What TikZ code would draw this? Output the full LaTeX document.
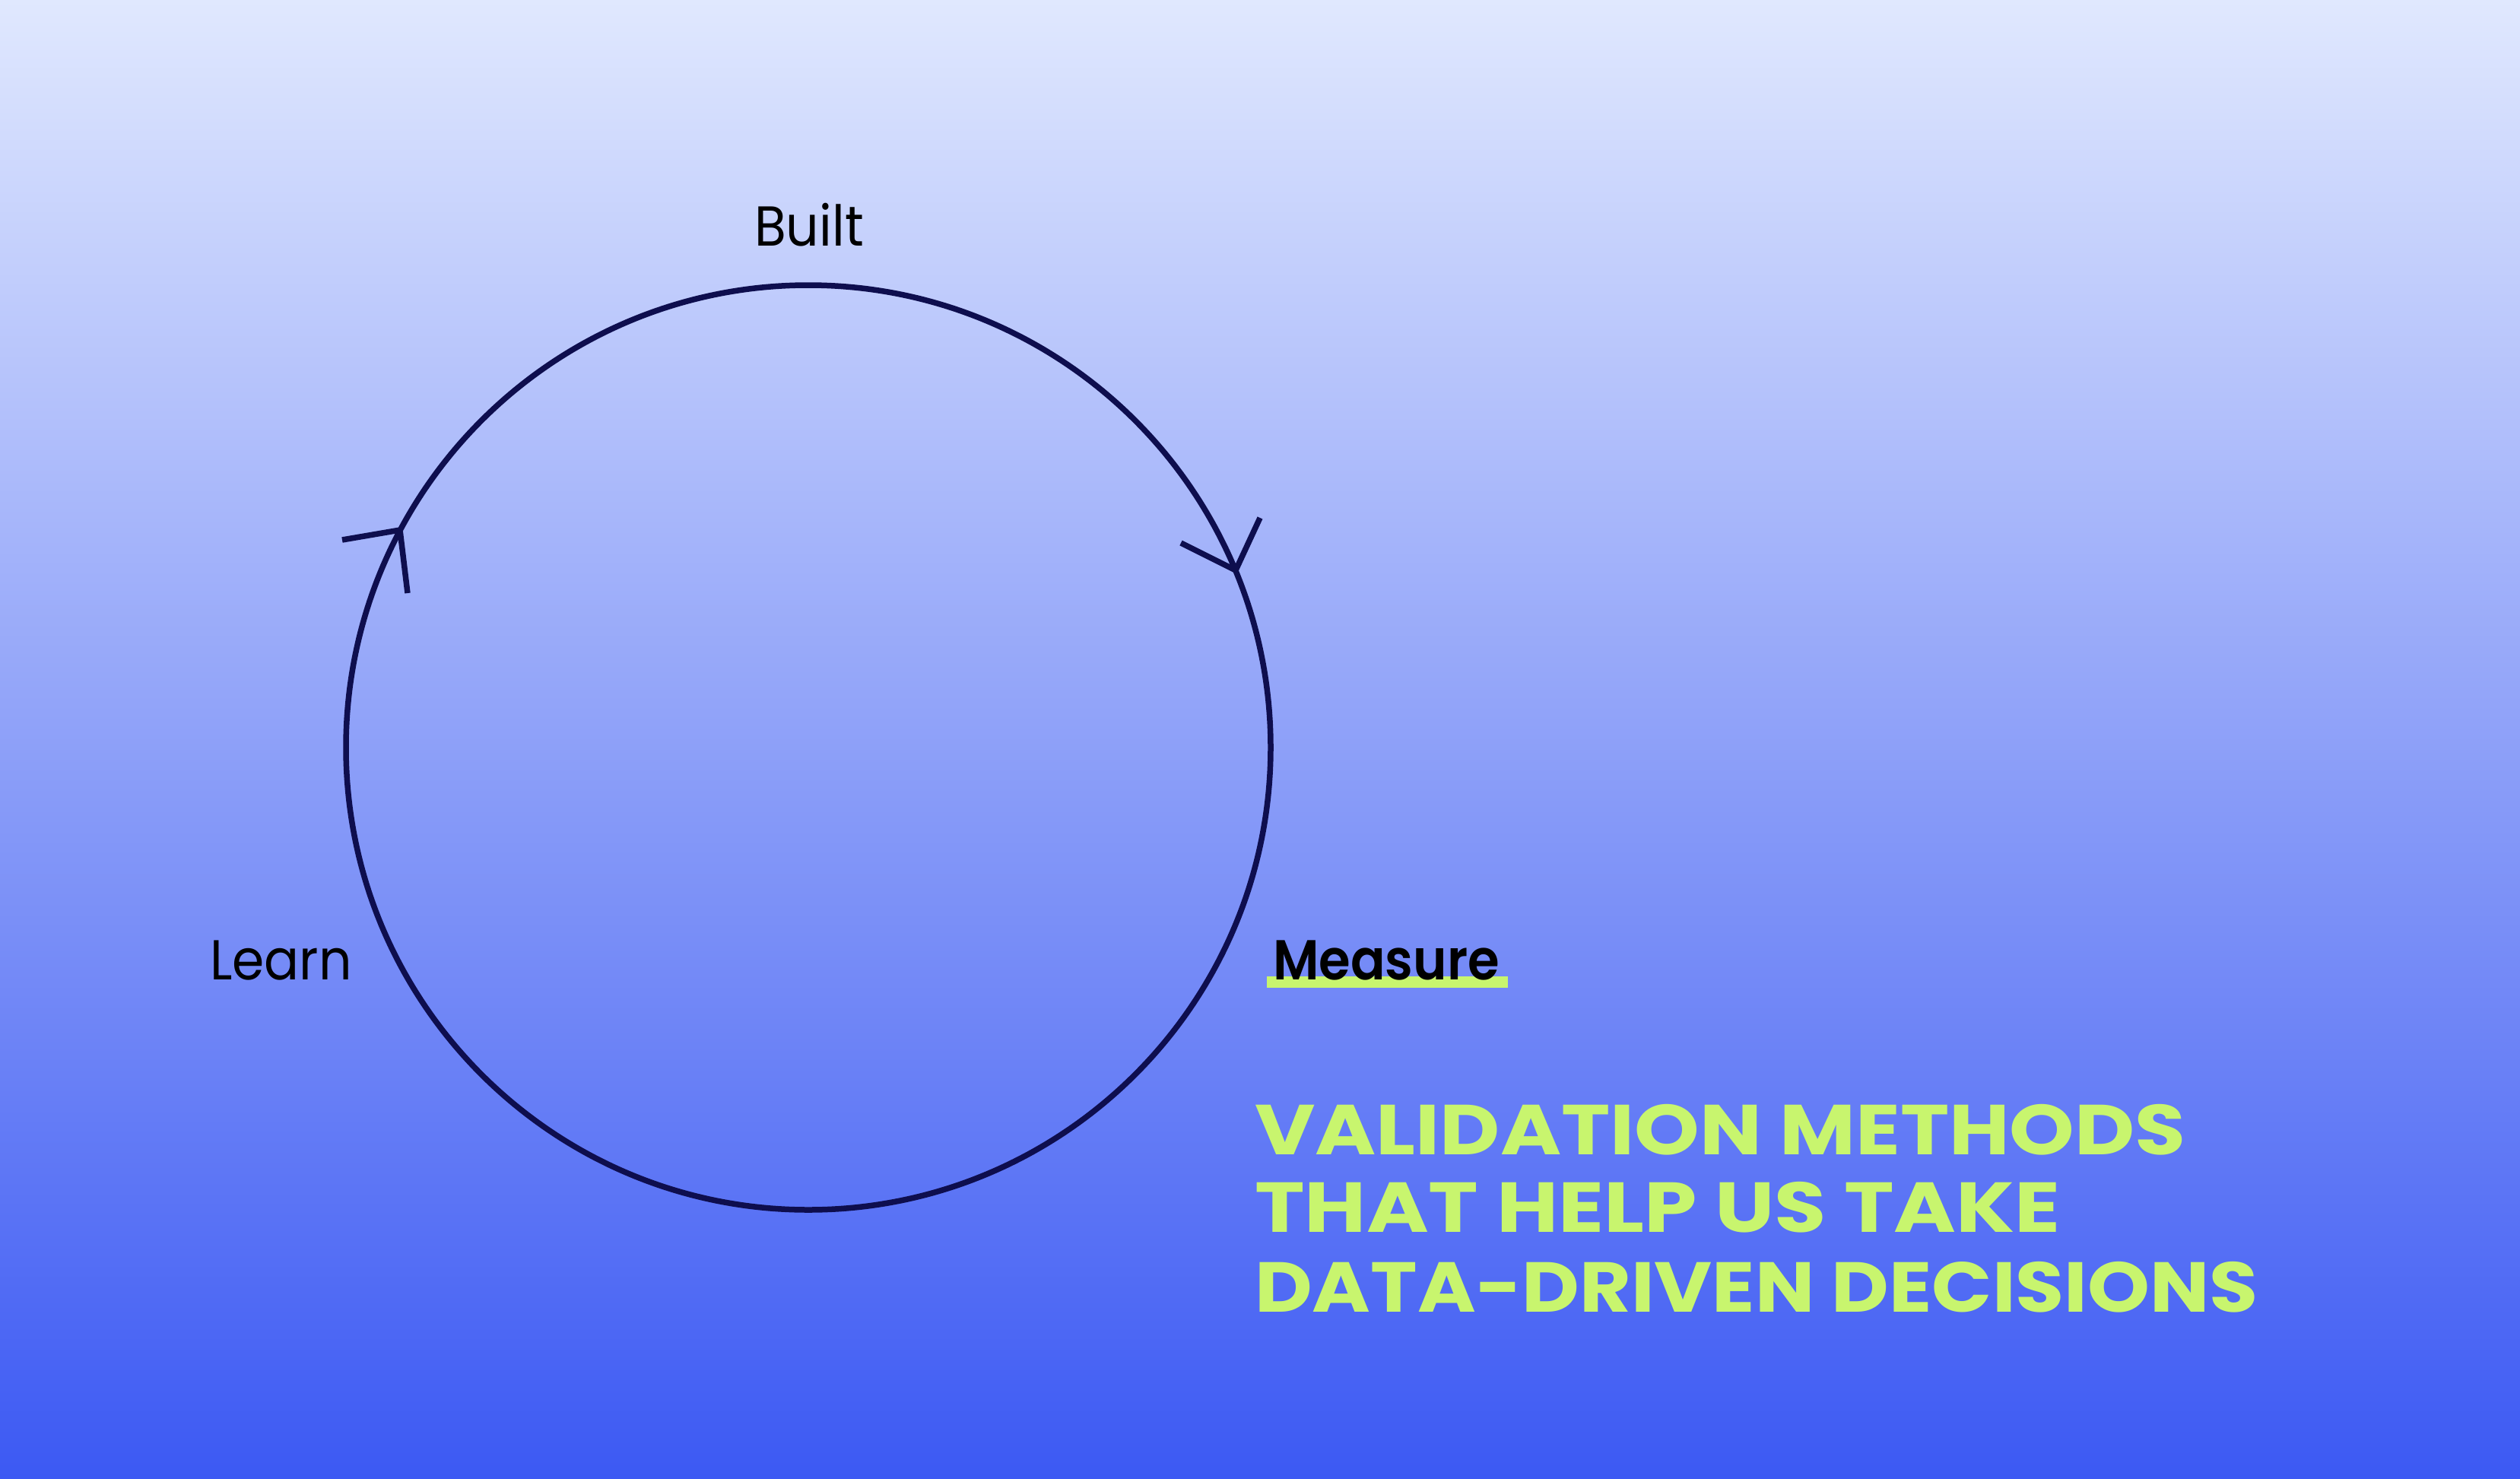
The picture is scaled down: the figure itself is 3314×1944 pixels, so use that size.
\documentclass[tikz,border=0pt]{standalone}
\usepackage{fontspec}
\setmainfont{Poppins}[FakeStretch=0.92]
\newfontfamily\headfont{Poppins}[FakeStretch=1.12]
\newfontfamily\semifont{Poppins SemiBold}[FakeStretch=0.91]
\definecolor{topc}{RGB}{224,232,254}
\definecolor{botc}{RGB}{60,89,243}
\definecolor{navy}{RGB}{14,14,78}
\definecolor{lime}{RGB}{200,245,110}
\tikzset{
  loopline/.style={draw=navy, line width=7.5pt},
  tipline/.style={draw=navy, line width=7.5pt, line join=miter, line cap=butt},
  labeltext/.style={inner sep=0pt, anchor=base west, text=black, font=\fontsize{74}{80}\selectfont},
  headtext/.style={inner sep=0pt, anchor=base west, text=lime, font=\headfont\bfseries\fontsize{93}{100}\selectfont}
}
\begin{document}
\begin{tikzpicture}[x=1pt,y=-1pt]
\shade[top color=topc, bottom color=botc] (0,0) rectangle (3314,1944);
\useasboundingbox (0,0) rectangle (3314,1944);
% cycle
\coordinate (c) at (1063,983);
\draw[loopline] (c) circle[radius=608];
% arrowheads
\coordinate (tipL) at (526,697);
\coordinate (lA) at (450,710);
\coordinate (lB) at (536,780);
\draw[tipline] (lA) -- (tipL) -- (lB);
\coordinate (tipR) at (1625,750);
\coordinate (rA) at (1553,714);
\coordinate (rB) at (1657,681);
\draw[tipline] (rA) -- (tipR) -- (rB);
% labels
\node[labeltext, anchor=base] (built) at (1064,323) {Built};
\node[labeltext] (learn) at (276,1288) {Learn};
\fill[lime] (1666,1284) rectangle (1983,1299);
\node[labeltext, font=\semifont\fontsize{74}{80}\selectfont] (measure) at (1674,1288) {Measure};
% headline
\node[headtext] (h1) at (1650,1518) {\scalebox{1.045}[1]{VALIDATION METHODS}};
\node[headtext] (h2) at (1650,1620) {\scalebox{1.066}[1]{THAT HELP US TAKE}};
\node[headtext] (h3) at (1650,1725) {DATA-DRIVEN DECISIONS};
\end{tikzpicture}
\end{document}
